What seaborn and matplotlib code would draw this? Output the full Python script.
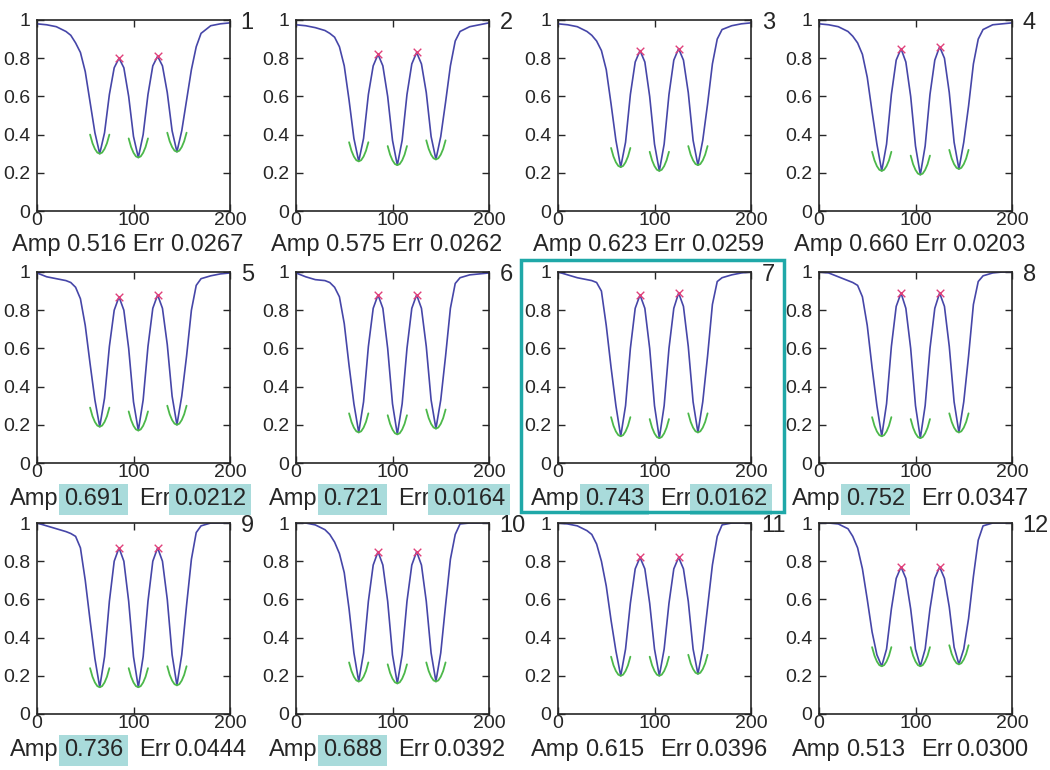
import pandas as pd
import matplotlib.pyplot as plt
import seaborn as sns
from matplotlib.patches import Rectangle

# sample positions shared by every panel
xs = [0, 10, 20, 30, 35, 40, 45, 50, 55, 60, 65, 70, 75, 80, 85, 90, 95, 100, 105,
      110, 115, 120, 125, 130, 135, 140, 145, 150, 155, 160, 165, 170, 180, 190, 200]

# curve values
y1 = [0.98, 0.975, 0.965, 0.94, 0.92, 0.88, 0.83, 0.73, 0.57, 0.41, 0.30, 0.41, 0.61, 0.75, 0.80, 0.75, 0.60, 0.39, 0.28,
      0.40, 0.61, 0.76, 0.81, 0.76, 0.62, 0.42, 0.31, 0.42, 0.58, 0.74, 0.86, 0.93, 0.97, 0.98, 0.985]
y2 = [0.975, 0.97, 0.96, 0.945, 0.93, 0.91, 0.86, 0.76, 0.58, 0.38, 0.26, 0.38, 0.61, 0.76, 0.82, 0.76, 0.60, 0.37, 0.24,
      0.37, 0.61, 0.77, 0.83, 0.77, 0.62, 0.39, 0.27, 0.39, 0.57, 0.76, 0.89, 0.94, 0.965, 0.975, 0.985]
y3 = [0.98, 0.975, 0.965, 0.94, 0.92, 0.89, 0.84, 0.74, 0.56, 0.37, 0.23, 0.36, 0.61, 0.78, 0.84, 0.78, 0.60, 0.35, 0.21,
      0.35, 0.61, 0.79, 0.85, 0.79, 0.62, 0.37, 0.24, 0.37, 0.56, 0.77, 0.90, 0.95, 0.97, 0.98, 0.985]
y4 = [0.98, 0.975, 0.965, 0.94, 0.915, 0.88, 0.82, 0.70, 0.52, 0.35, 0.21, 0.35, 0.61, 0.79, 0.85, 0.78, 0.60, 0.34, 0.19,
      0.34, 0.61, 0.79, 0.86, 0.80, 0.62, 0.36, 0.22, 0.36, 0.55, 0.77, 0.90, 0.95, 0.975, 0.98, 0.985]
y5 = [0.995, 0.975, 0.965, 0.955, 0.945, 0.92, 0.86, 0.72, 0.52, 0.33, 0.19, 0.34, 0.61, 0.80, 0.87, 0.80, 0.60, 0.32, 0.17,
      0.33, 0.61, 0.81, 0.88, 0.81, 0.62, 0.35, 0.20, 0.35, 0.56, 0.80, 0.93, 0.965, 0.98, 0.99, 0.995]
y6 = [0.995, 0.975, 0.96, 0.955, 0.945, 0.92, 0.87, 0.73, 0.51, 0.31, 0.16, 0.32, 0.61, 0.81, 0.88, 0.81, 0.60, 0.31, 0.15,
      0.31, 0.60, 0.81, 0.88, 0.81, 0.61, 0.33, 0.18, 0.33, 0.56, 0.81, 0.94, 0.97, 0.985, 0.99, 0.995]
y7 = [1.0, 0.985, 0.97, 0.96, 0.955, 0.945, 0.90, 0.72, 0.50, 0.30, 0.14, 0.30, 0.60, 0.81, 0.88, 0.81, 0.60, 0.30, 0.13,
      0.30, 0.60, 0.81, 0.89, 0.82, 0.61, 0.32, 0.16, 0.32, 0.56, 0.83, 0.95, 0.97, 0.985, 0.995, 1.0]
y8 = [1.0, 0.995, 0.975, 0.955, 0.945, 0.93, 0.87, 0.72, 0.50, 0.30, 0.14, 0.31, 0.61, 0.82, 0.89, 0.81, 0.60, 0.30, 0.13,
      0.30, 0.60, 0.81, 0.89, 0.82, 0.61, 0.32, 0.16, 0.32, 0.56, 0.83, 0.95, 0.98, 0.995, 1.0, 1.0]
y9 = [1.0, 0.985, 0.97, 0.955, 0.945, 0.93, 0.87, 0.70, 0.49, 0.29, 0.14, 0.30, 0.59, 0.80, 0.87, 0.80, 0.59, 0.30, 0.14,
      0.30, 0.59, 0.80, 0.87, 0.80, 0.60, 0.31, 0.15, 0.31, 0.57, 0.81, 0.95, 0.985, 1.0, 1.0, 1.0]
y10 = [1.0, 1.0, 0.99, 0.965, 0.94, 0.90, 0.84, 0.74, 0.55, 0.32, 0.17, 0.32, 0.59, 0.78, 0.85, 0.78, 0.59, 0.31, 0.16,
       0.31, 0.59, 0.78, 0.85, 0.78, 0.59, 0.32, 0.17, 0.32, 0.57, 0.81, 0.94, 0.995, 1.0, 1.0, 1.0]
y11 = [1.0, 0.995, 0.985, 0.96, 0.94, 0.89, 0.80, 0.67, 0.49, 0.33, 0.20, 0.34, 0.58, 0.76, 0.82, 0.76, 0.58, 0.34, 0.20,
       0.34, 0.58, 0.76, 0.82, 0.76, 0.59, 0.34, 0.21, 0.34, 0.56, 0.78, 0.93, 0.99, 1.0, 1.0, 1.0]
y12 = [1.0, 1.0, 0.995, 0.97, 0.93, 0.87, 0.76, 0.60, 0.43, 0.31, 0.25, 0.34, 0.55, 0.71, 0.77, 0.71, 0.55, 0.34, 0.25,
       0.34, 0.55, 0.71, 0.77, 0.71, 0.56, 0.35, 0.26, 0.34, 0.50, 0.72, 0.91, 0.985, 1.0, 1.0, 1.0]
curves = [y1, y2, y3, y4, y5, y6, y7, y8, y9, y10, y11, y12]

peak_x = [85, 125]
dip_x = [65, 105, 145]
# parabola fit drawn around each dip (offsets from the dip)
fit_dx = [-10, -7.5, -5, -2.5, 0, 2.5, 5, 7.5, 10]
fit_dy = [0.10, 0.055, 0.025, 0.006, 0.0, 0.006, 0.025, 0.055, 0.10]

amp = ['0.516', '0.575', '0.623', '0.660', '0.691', '0.721', '0.743', '0.752', '0.736', '0.688', '0.615', '0.513']
err = ['0.0267', '0.0262', '0.0259', '0.0203', '0.0212', '0.0164', '0.0162', '0.0347', '0.0444', '0.0392', '0.0396', '0.0300']
amp_hl = [False, False, False, False, True, True, True, True, True, True, False, False]
err_hl = [False, False, False, False, True, True, True, False, False, False, False, False]

sns.set_style('ticks')
plt.rcParams['font.family'] = ['Liberation Sans', 'DejaVu Sans']

BLUE = '#4646a8'
RED = '#e0407a'
GREEN = '#4cb84a'
HL = '#a9dbdb'
TEAL = '#1fa8a8'

W, H = 1050, 770
fig = plt.figure(figsize=(10.5, 7.7), dpi=100)
lefts = [37, 296, 558, 819]
tops = [20, 272, 523]
aw, ah = 193, 191

for k in range(12):
    r, c = divmod(k, 4)
    ax = fig.add_axes([lefts[c] / W, 1 - (tops[r] + ah) / H, aw / W, ah / H])
    yk = curves[k]
    sns.lineplot(x=xs, y=yk, ax=ax, color=BLUE, lw=1.2, estimator=None, sort=False)

    fit = pd.DataFrame({
        'x': [d + dx for d in dip_x for dx in fit_dx],
        'y': [yk[xs.index(d)] + dy for d in dip_x for dy in fit_dy],
        'dip': [d for d in dip_x for _ in fit_dx],
    })
    sns.lineplot(data=fit, x='x', y='y', units='dip', estimator=None, ax=ax,
                 color=GREEN, lw=1.3, sort=False)
    sns.scatterplot(x=peak_x, y=[yk[xs.index(p)] for p in peak_x], ax=ax,
                    marker='x', color=RED, s=30, linewidth=1.0, zorder=5)

    ax.set_xlim(0, 200)
    ax.set_ylim(0, 1)
    ax.set_xticks([0, 100, 200])
    ax.set_yticks([0, 0.2, 0.4, 0.6, 0.8, 1.0])
    ax.set_yticklabels(['0', '0.2', '0.4', '0.6', '0.8', '1'])
    ax.tick_params(direction='in', top=True, right=True, length=5, width=1, labelsize=14)
    ax.tick_params(axis='x', pad=1)
    ax.tick_params(axis='y', pad=5)
    for s in ax.spines.values():
        s.set_linewidth(1.2)
    ax.set_xlabel('')
    ax.set_ylabel('')

    ax.text(1.055, 0.985, str(k + 1), transform=ax.transAxes, fontsize=17,
            ha='left', va='center')

    if r == 0:
        ax.text(0.47, -0.18, 'Amp ' + amp[k] + ' Err ' + err[k], transform=ax.transAxes,
                fontsize=17, ha='center', va='center')
    else:
        ly = -0.19
        box = dict(boxstyle='square,pad=0.2', fc=HL, ec='none')
        ax.text(-0.14, ly, 'Amp', transform=ax.transAxes, fontsize=17, ha='left', va='center')
        ax.text(0.14, ly, amp[k], transform=ax.transAxes, fontsize=17, ha='left', va='center',
                bbox=box if amp_hl[k] else None)
        ax.text(0.53, ly, 'Err', transform=ax.transAxes, fontsize=17, ha='left', va='center')
        ax.text(0.71, ly, err[k], transform=ax.transAxes, fontsize=17, ha='left', va='center',
                bbox=box if err_hl[k] else None)

# frame round panel 7
fig.add_artist(Rectangle((521 / W, 1 - 512 / H), (784 - 521) / W, (512 - 260) / H,
                         transform=fig.transFigure, fill=False, ec=TEAL, lw=2.5))

fig.savefig('out.png', dpi=100)
